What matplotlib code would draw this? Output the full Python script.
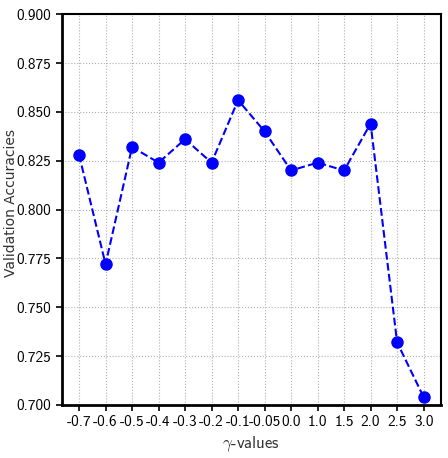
import matplotlib
matplotlib.use("Agg")
import matplotlib.pyplot as plt

gamma_labels = ["-0.7", "-0.6", "-0.5", "-0.4", "-0.3", "-0.2", "-0.1", "-0.05",
                "0.0", "1.0", "1.5", "2.0", "2.5", "3.0"]
accuracies = [0.828, 0.772, 0.832, 0.824, 0.836, 0.824, 0.856, 0.840,
              0.820, 0.824, 0.820, 0.844, 0.732, 0.704]
y_ticks = [0.700, 0.725, 0.750, 0.775, 0.800, 0.825, 0.850, 0.875, 0.900]

plt.rcParams['axes.unicode_minus'] = False
plt.rcParams['mathtext.fontset'] = 'cm'

fig = plt.figure(figsize=(4.48, 4.58), dpi=100)
ax = fig.add_axes([0.138, 0.116, 0.846, 0.853])

xs = list(range(len(gamma_labels)))
ax.plot(xs, accuracies, color='blue', linestyle='--', linewidth=1.5,
        marker='o', markersize=8, zorder=3)

ax.set_xlim(-0.65, len(gamma_labels) - 0.35)
ax.set_ylim(0.7, 0.9)
ax.set_xticks(xs)
ax.set_xticklabels(gamma_labels, family='cmss10', fontsize=11)
ax.set_yticks(y_ticks)
ax.set_yticklabels(["%.3f" % v for v in y_ticks], family='cmss10', fontsize=11)

ax.grid(True, linestyle=':', color='#b0b0b0', linewidth=0.8)
ax.tick_params(direction='out', length=4, width=1.2, color='black')
for side in ['left', 'bottom']:
    ax.spines[side].set_linewidth(2)
for side in ['top', 'right']:
    ax.spines[side].set_linewidth(1.5)

ax.set_ylabel("Validation Accuracies", fontsize=10, color='#333333')
ax.yaxis.set_label_coords(-0.116, 0.517)
ax.set_xlabel(r"$\gamma$-values", fontsize=12, family='cmss10', color='#333333')

fig.savefig("out.png", dpi=100)
